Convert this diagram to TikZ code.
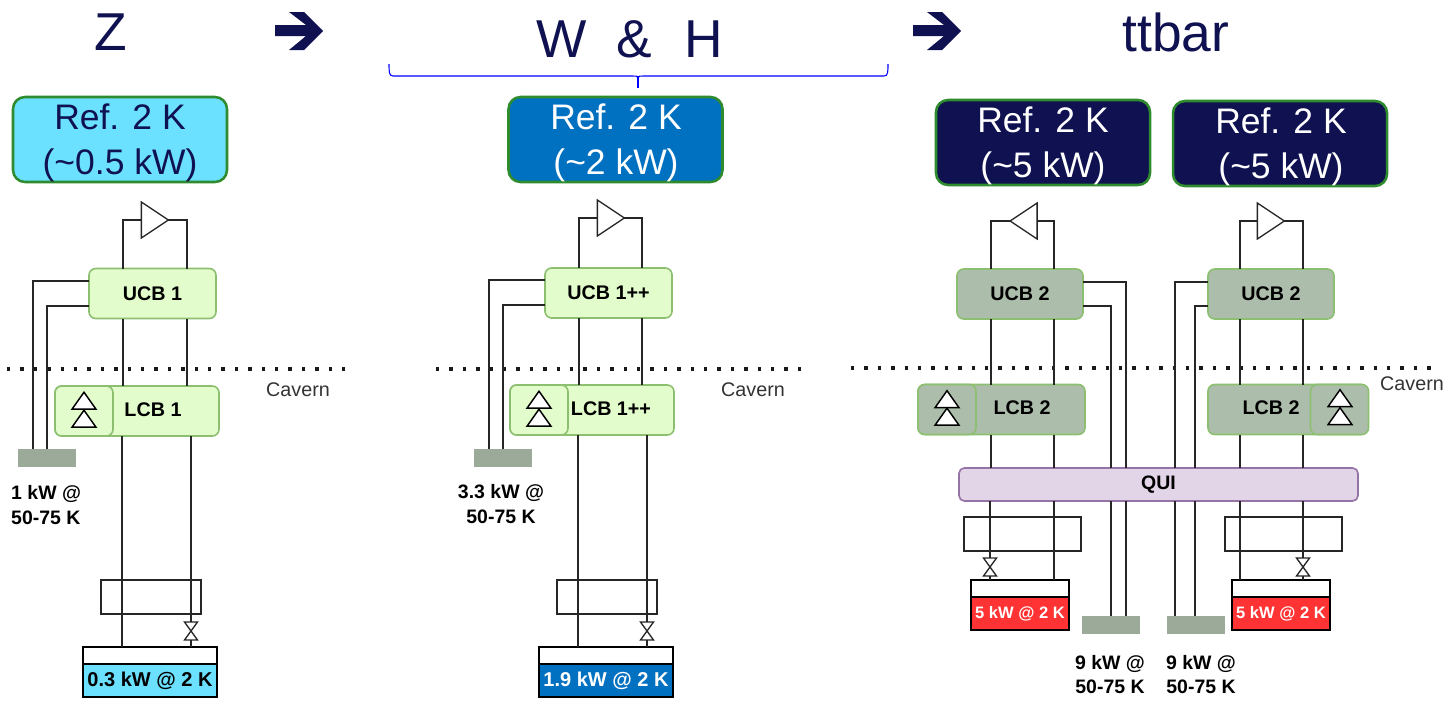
\documentclass[tikz,border=0pt]{standalone}
\usepackage{fontspec}
\setmainfont{Liberation Sans}
\usetikzlibrary{shapes.geometric}
\definecolor{navy}{HTML}{0F1150}
\definecolor{refz}{HTML}{6BE0FF}
\definecolor{refw}{HTML}{0070C0}
\definecolor{reft}{HTML}{FF3333}
\definecolor{refgreen}{HTML}{2E8B2E}
\definecolor{paleg}{HTML}{E3FCCB}
\definecolor{darkg}{HTML}{ADBDAC}
\definecolor{edgeg}{HTML}{8CC070}
\definecolor{shield}{HTML}{9BAA99}
\definecolor{quifill}{HTML}{E1D5E7}
\definecolor{quiedge}{HTML}{9673A6}
\tikzset{
  boxsize/.style 2 args={minimum width=#1*0.75pt, minimum height=#2*0.75pt, inner sep=0pt, outer sep=0pt},
  title/.style={font=\fontsize{40}{40}\selectfont, text=navy},
  refbox/.style={boxsize={214}{85}, rounded corners=9pt, draw=refgreen, line width=1.9pt},
  reftext/.style={font=\fontsize{26.6}{33.8}\selectfont, align=center},
  coldbox/.style={boxsize={#1}{50}, rounded corners=5pt, draw=edgeg, line width=1.2pt, font=\fontsize{14.8}{17}\selectfont\bfseries},
  coldtext/.style={font=\fontsize{14.8}{17}\selectfont\bfseries},
  pumpbox/.style={boxsize={58}{50}, rounded corners=5pt, draw=edgeg, line width=1.2pt},
  boldtext/.style={font=\fontsize{14.6}{18.7}\selectfont\bfseries, align=center},
  cavern/.style={font=\fontsize{14.8}{18}\selectfont, text=black!80},
  wire/.style={line width=1pt, black!85},
  hxbox/.style={draw=black!85, line width=1pt, boxsize={#1}{34}},
  tanktop/.style={draw=black, line width=1.2pt, fill=white, boxsize={#1}{17}},
  tankfill/.style={draw=black, line width=1.2pt, boxsize={#1}{33}, font=\fontsize{15}{18}\selectfont\bfseries},
  shieldbox/.style={fill=shield, boxsize={58}{18}},
  ampshape/.style={draw=black!85, line width=1pt, fill=white, isosceles triangle, isosceles triangle stretches, inner sep=0pt, outer sep=0pt, minimum width=36*0.75pt, minimum height=27*0.75pt},
  lifttri/.style={draw=black, line width=1.1pt, fill=white, isosceles triangle, isosceles triangle stretches, shape border rotate=90, inner sep=0pt, outer sep=0pt, minimum width=24*0.75pt, minimum height=17*0.75pt},
  cavernline/.style={line width=2.6pt, dash pattern=on 2.6pt off 7.45pt, black!90},
  bigarrow/.pic={\fill[navy] (0,25) -- (31,25) -- (14,12) -- (29,12) -- (48,31) -- (29,50) -- (14,50) -- (31,36) -- (0,36) -- cycle;}
}
\newcommand{\valve}[3]{%
  \node[boxsize={13}{18}] (#1) at (#2,#3) {};
  \draw[wire, fill=white] (#1.north west) -- (#1.north east) -- (#1.south west) -- (#1.south east) -- cycle;
}

\begin{document}
\begin{tikzpicture}[x=0.75pt, y=-0.75pt]
  \useasboundingbox (0,0) rectangle (1451,703);
  % titles
  \node[title] (titlez) at (111,32) {Z};
  \node[title] (titlew) at (629.5,39) {W\ \ \&\hspace{0.06em}\ \ H};
  \node[title] (titlet) at (1176,32) {ttbar};
  \pic at (275,0) {bigarrow};
  \pic at (913,0) {bigarrow};
  \draw[blue, line width=0.8pt] (389,64) .. controls (389,72) and (389,76) .. (393,76) -- (633,76) .. controls (636,76) and (638,76) .. (638,78) .. controls (638,76) and (640,76) .. (643,76) -- (884,76) .. controls (888,76) and (888,72) .. (888,64);
  \draw[blue, line width=0.8pt] (638,76) -- (638,88);

  % refrigerators
  \node[refbox, fill=refz] (refz) at (120,139.5) {};
  \node[reftext, text=navy] (reftz) at (120,142.5) {Ref. 2 K\\(\textasciitilde 0.5 kW)};
  \node[refbox, fill=refw] (refw) at (615.5,139.5) {};
  \node[reftext, text=white] (reftw) at (616,142.5) {Ref. 2 K\\(\textasciitilde 2 kW)};
  \node[refbox, fill=navy] (refa) at (1043,142.5) {};
  \node[reftext, text=white] (refta) at (1043,146) {Ref. 2 K\\(\textasciitilde 5 kW)};
  \node[refbox, fill=navy] (refb) at (1280,143.5) {};
  \node[reftext, text=white] (reftb) at (1281,147) {Ref. 2 K\\(\textasciitilde 5 kW)};

  % cavern level
  \draw[cavernline] (7,369) -- (347,369);
  \draw[cavernline] (436,369) -- (806,369);
  \draw[cavernline] (851,368) -- (1440,368);
  \node[cavern] (cavz) at (298,390) {Cavern};
  \node[cavern] (cavw) at (753,390) {Cavern};
  \node[cavern] (cavt) at (1412,384) {Cavern};

  % Z
  \coordinate (zl) at (123,0);
  \coordinate (zr) at (187,0);
  \coordinate (zll) at (122,0);
  \coordinate (zrr) at (191,0);
  \node[coldbox=127, fill=paleg] (ucbz) at (152.5,293.5) {UCB 1};
  \node[coldbox=164, fill=paleg] (lcbz) at (137,411) {};
  \node[pumpbox, fill=paleg] (pumpz) at (84,411) {};
  \node[coldtext] (lcbtz) at (153,410) {LCB 1};
  \node[lifttri] (tuz) at (84,403) {};
  \node[lifttri] (tdz) at (84,421) {};
  \node[ampshape] (ampz) at (151,220) {};
  \draw[wire] (ampz.west) -| (zl |- ucbz.north);
  \draw[wire] (ampz.apex) -| (zr |- ucbz.north);
  \draw[wire] (zl |- ucbz.south) -- (zl |- lcbz.north);
  \draw[wire] (zr |- ucbz.south) -- (zr |- lcbz.north);
  \node[shieldbox] (shz) at (47,458) {};
  \coordinate (za) at (33,281);
  \coordinate (zb) at (47,306);
  \draw[wire] (ucbz.west |- za) -| (za |- shz.north);
  \draw[wire] (ucbz.west |- zb) -| (zb |- shz.north);
  \node[boldtext, align=left, anchor=north west] (labz) at (6.5,481) {1 kW @\\50-75 K};
  \node[hxbox=100] (hxz) at (151,597) {};
  \valve{valz}{191}{631}
  \node[tanktop=134] (topz) at (150,655.5) {};
  \node[tankfill=134, fill=refz] (tankz) at (150,680.5) {0.3 kW @ 2 K};
  \draw[wire] (zll |- lcbz.south) -- (zll |- topz.north);
  \draw[wire] (zrr |- lcbz.south) -- (valz.north);
  \draw[wire] (valz.south) -- (zrr |- topz.north);

  % W and H
  \coordinate (wl) at (579,0);
  \coordinate (wr) at (642,0);
  \coordinate (wll) at (578,0);
  \coordinate (wrr) at (647,0);
  \node[coldbox=127, fill=paleg] (ucbw) at (608.5,293) {UCB 1++};
  \node[coldbox=164, fill=paleg] (lcbw) at (592,410) {};
  \node[pumpbox, fill=paleg] (pumpw) at (539,410) {};
  \node[coldtext] (lcbtw) at (611,409) {LCB 1++};
  \node[lifttri] (tuw) at (539,402) {};
  \node[lifttri] (tdw) at (539,420) {};
  \node[ampshape] (ampw) at (607,218) {};
  \draw[wire] (ampw.west) -| (wl |- ucbw.north);
  \draw[wire] (ampw.apex) -| (wr |- ucbw.north);
  \draw[wire] (wl |- ucbw.south) -- (wl |- lcbw.north);
  \draw[wire] (wr |- ucbw.south) -- (wr |- lcbw.north);
  \node[shieldbox] (shw) at (503,458) {};
  \coordinate (wa) at (489,280);
  \coordinate (wb) at (503,305);
  \draw[wire] (ucbw.west |- wa) -| (wa |- shw.north);
  \draw[wire] (ucbw.west |- wb) -| (wb |- shw.north);
  \node[boldtext] (labw) at (501,504.5) {3.3 kW @\\50-75 K};
  \node[hxbox=100] (hxw) at (607,597) {};
  \valve{valw}{647}{631}
  \node[tanktop=134] (topw) at (606,655.5) {};
  \node[tankfill=134, fill=refw, text=white] (tankw) at (606,680.5) {1.9 kW @ 2 K};
  \draw[wire] (wll |- lcbw.south) -- (wll |- topw.north);
  \draw[wire] (wrr |- lcbw.south) -- (valw.north);
  \draw[wire] (valw.south) -- (wrr |- topw.north);

  % ttbar
  \coordinate (al) at (991,0);
  \coordinate (ar) at (1054,0);
  \coordinate (bl) at (1240,0);
  \coordinate (br) at (1303,0);
  \node[coldbox=126, fill=darkg] (ucba) at (1020,294) {UCB 2};
  \node[coldbox=126, fill=darkg] (ucbb) at (1271,294) {UCB 2};
  \node[coldbox=167, fill=darkg] (lcba) at (1001.5,409.5) {};
  \node[pumpbox, fill=darkg] (pumpa) at (947,409.5) {};
  \node[coldtext] (lcbta) at (1022,408) {LCB 2};
  \node[lifttri] (tua) at (947,401.5) {};
  \node[lifttri] (tda) at (947,419) {};
  \node[coldbox=160, fill=darkg] (lcbb) at (1288,409.5) {};
  \node[pumpbox, fill=darkg] (pumpb) at (1339.5,409.5) {};
  \node[coldtext] (lcbtb) at (1271,408) {LCB 2};
  \node[lifttri] (tub) at (1340,400.5) {};
  \node[lifttri] (tdb) at (1340,418.5) {};
  \node[ampshape, shape border rotate=180] (ampa) at (1027.5,221) {};
  \node[ampshape] (ampb) at (1267,221) {};
  \draw[wire] (ampa.apex) -| (al |- ucba.north);
  \draw[wire] (ampa.east) -| (ar |- ucba.north);
  \draw[wire] (ampb.west) -| (bl |- ucbb.north);
  \draw[wire] (ampb.apex) -| (br |- ucbb.north);
  \draw[wire] (al |- ucba.south) -- (al |- lcba.north);
  \draw[wire] (ar |- ucba.south) -- (ar |- lcba.north);
  \draw[wire] (bl |- ucbb.south) -- (bl |- lcbb.north);
  \draw[wire] (br |- ucbb.south) -- (br |- lcbb.north);
  \node[boxsize={399}{33}, rounded corners=4pt, draw=quiedge, line width=1.2pt, fill=quifill, font=\fontsize{14.6}{17}\selectfont\bfseries] (qui) at (1158.5,484.5) {QUI};
  \draw[wire] (al |- lcba.south) -- (al |- qui.north);
  \draw[wire] (ar |- lcba.south) -- (ar |- qui.north);
  \draw[wire] (bl |- lcbb.south) -- (bl |- qui.north);
  \draw[wire] (br |- lcbb.south) -- (br |- qui.north);
  \node[shieldbox] (sha) at (1110.5,625) {};
  \node[shieldbox] (shb) at (1195.5,625) {};
  \coordinate (aa) at (1126,282);
  \coordinate (ab) at (1111,306);
  \coordinate (ba) at (1175,282);
  \coordinate (bb) at (1195,306);
  \draw[wire] (ucba.east |- aa) -| (aa |- qui.north);
  \draw[wire] (ucba.east |- ab) -| (ab |- qui.north);
  \draw[wire] (ucbb.west |- ba) -| (ba |- qui.north);
  \draw[wire] (ucbb.west |- bb) -| (bb |- qui.north);
  \draw[wire] (aa |- qui.south) -- (aa |- sha.north);
  \draw[wire] (ab |- qui.south) -- (ab |- sha.north);
  \draw[wire] (ba |- qui.south) -- (ba |- shb.north);
  \draw[wire] (bb |- qui.south) -- (bb |- shb.north);
  \node[boldtext] (laba) at (1110,674.5) {9 kW @\\50-75 K};
  \node[boldtext] (labb) at (1201,674.5) {9 kW @\\50-75 K};
  \node[hxbox=117] (hxa) at (1022.5,534) {};
  \node[hxbox=117] (hxb) at (1283.5,534) {};
  \valve{vala}{990}{567}
  \valve{valb}{1303}{567}
  \node[tanktop=98] (topa) at (1020,588.5) {};
  \node[tankfill=98, fill=reft, text=white, font=\fontsize{12.4}{15}\selectfont\bfseries] (tanka) at (1020,613.5) {5 kW @ 2 K};
  \node[tanktop=98] (topb) at (1281,588.5) {};
  \node[tankfill=98, fill=reft, text=white, font=\fontsize{12.4}{15}\selectfont\bfseries] (tankb) at (1281,613.5) {5 kW @ 2 K};
  \draw[wire] (vala.north |- qui.south) -- (vala.north);
  \draw[wire] (vala.south) -- (vala.south |- topa.north);
  \draw[wire] (ar |- qui.south) -- (ar |- topa.north);
  \draw[wire] (bl |- qui.south) -- (bl |- topb.north);
  \draw[wire] (br |- qui.south) -- (valb.north);
  \draw[wire] (valb.south) -- (br |- topb.north);
\end{tikzpicture}
\end{document}
